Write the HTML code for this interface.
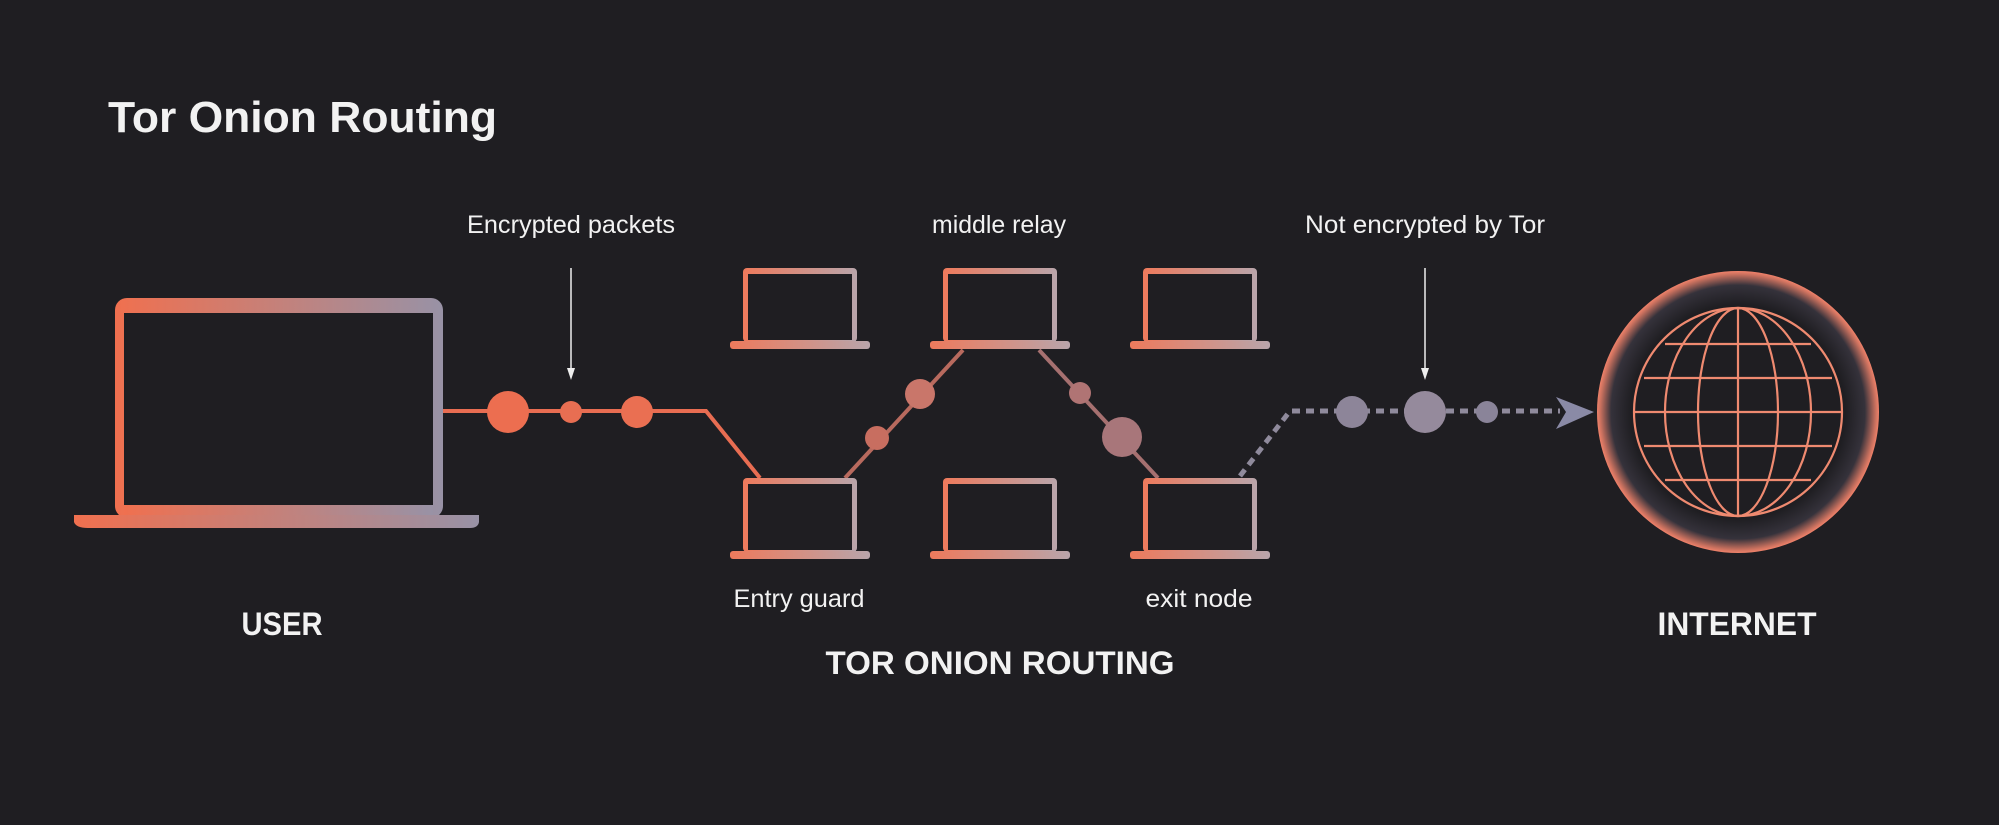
<!DOCTYPE html>
<html><head><meta charset="utf-8"><style>
html,body{margin:0;padding:0;background:#1f1e22;}
svg{display:block}
text{font-family:"Liberation Sans",sans-serif;fill:#f2f2f2}
</style></head><body>
<svg width="1999" height="825" viewBox="0 0 1999 825" xmlns="http://www.w3.org/2000/svg">
<defs>
<linearGradient id="lg" x1="0" x2="1" y1="0" y2="0">
<stop offset="0" stop-color="#f0704f"/><stop offset="1" stop-color="#9892a6"/></linearGradient>
<linearGradient id="lg2" x1="0" x2="1" y1="0" y2="0">
<stop offset="0" stop-color="#ee7a5c"/><stop offset="1" stop-color="#b9a5ab"/></linearGradient>
<radialGradient id="glow" cx="0.5" cy="0.5" r="0.5">
<stop offset="0.76" stop-color="#1f1e22"/><stop offset="0.9" stop-color="#35323b"/><stop offset="0.975" stop-color="#c8705e"/><stop offset="1" stop-color="#f0826a"/></radialGradient>
<g id="lap">
<rect x="-57" y="0" width="114" height="74" rx="4" fill="url(#lg2)"/>
<rect x="-52" y="6" width="104" height="66" fill="#1f1e22"/>
<rect x="-70" y="73" width="140" height="8" rx="3" fill="url(#lg2)"/>
</g>
</defs>
<rect width="1999" height="825" fill="#1f1e22"/>

<text x="108" y="132" font-size="44" font-weight="bold" textLength="389" lengthAdjust="spacingAndGlyphs">Tor Onion Routing</text>

<!-- user laptop -->
<rect x="115" y="298" width="328" height="220" rx="12" fill="url(#lg)"/>
<rect x="124" y="313" width="309" height="192" fill="#1f1e22"/>
<rect x="124" y="505" width="309" height="10" fill="url(#lg)" opacity="0.8"/>
<path d="M74,515 H479 V522 Q478,528 470,528 H88 Q76,528 74,522 Z" fill="url(#lg)"/>

<!-- wire user->entry -->
<polyline points="443,411 706,411 760,478" fill="none" stroke="#e86d52" stroke-width="4"/>
<circle cx="508" cy="412" r="21" fill="#ec6e50"/>
<circle cx="571" cy="412" r="11" fill="#e86e52"/>
<circle cx="637" cy="412" r="16" fill="#ea6f52"/>

<!-- entry->middle -->
<line x1="845" y1="478" x2="963" y2="350" stroke="#b86a5e" stroke-width="4"/>
<circle cx="877" cy="438" r="12" fill="#c86e60"/>
<circle cx="920" cy="394" r="15" fill="#c9766a"/>
<!-- middle->exit -->
<line x1="1039" y1="350" x2="1158" y2="478" stroke="#a67070" stroke-width="4"/>
<circle cx="1080" cy="393" r="11" fill="#b07474"/>
<circle cx="1122" cy="437" r="20" fill="#a8767a"/>

<!-- exit->internet dotted -->
<polyline points="1240,476 1290,411 1560,411" fill="none" stroke="#8f8a9c" stroke-width="5" stroke-dasharray="8,6"/>
<circle cx="1352" cy="412" r="16" fill="#8d8599"/>
<circle cx="1425" cy="412" r="21" fill="#958a9c"/>
<circle cx="1487" cy="412" r="11" fill="#8a8499"/>
<path d="M1556,397 L1594,412 L1556,429 L1566,412 Z" fill="#8a8aa6"/>

<!-- small laptops -->
<use href="#lap" x="800" y="268"/>
<use href="#lap" x="1000" y="268"/>
<use href="#lap" x="1200" y="268"/>
<use href="#lap" x="800" y="478"/>
<use href="#lap" x="1000" y="478"/>
<use href="#lap" x="1200" y="478"/>

<!-- arrows -->
<line x1="571" y1="268" x2="571" y2="372" stroke="#eee" stroke-width="1.5"/>
<path d="M567,368 L571,380 L575,368 Z" fill="#eee"/>
<line x1="1425" y1="268" x2="1425" y2="372" stroke="#eee" stroke-width="1.5"/>
<path d="M1421,368 L1425,380 L1429,368 Z" fill="#eee"/>

<!-- globe -->
<circle cx="1738" cy="412" r="141" fill="url(#glow)"/>
<g fill="none" stroke="#ef8a70" stroke-width="2.2">
<circle cx="1738" cy="412" r="104"/>
<ellipse cx="1738" cy="412" rx="73" ry="104"/>
<ellipse cx="1738" cy="412" rx="40" ry="104"/>
<line x1="1738" y1="308" x2="1738" y2="516"/>
<line x1="1634" y1="412" x2="1842" y2="412"/>
<line x1="1644" y1="378" x2="1832" y2="378"/>
<line x1="1644" y1="446" x2="1832" y2="446"/>
<line x1="1665" y1="344" x2="1811" y2="344"/>
<line x1="1665" y1="480" x2="1811" y2="480"/>
</g>

<!-- labels -->
<text x="571" y="233" font-size="25" text-anchor="middle" textLength="208" lengthAdjust="spacingAndGlyphs">Encrypted packets</text>
<text x="999" y="233" font-size="25" text-anchor="middle" textLength="134" lengthAdjust="spacingAndGlyphs">middle relay</text>
<text x="1425" y="233" font-size="25" text-anchor="middle" textLength="240" lengthAdjust="spacingAndGlyphs">Not encrypted by Tor</text>
<text x="799" y="607" font-size="25" text-anchor="middle" textLength="131" lengthAdjust="spacingAndGlyphs">Entry guard</text>
<text x="1199" y="607" font-size="25" text-anchor="middle" textLength="107" lengthAdjust="spacingAndGlyphs">exit node</text>
<text x="282" y="635" font-size="32" font-weight="bold" text-anchor="middle" textLength="81" lengthAdjust="spacingAndGlyphs">USER</text>
<text x="1000" y="674" font-size="32" font-weight="bold" text-anchor="middle" textLength="349" lengthAdjust="spacingAndGlyphs">TOR ONION ROUTING</text>
<text x="1737" y="635" font-size="32" font-weight="bold" text-anchor="middle" textLength="159" lengthAdjust="spacingAndGlyphs">INTERNET</text>
</svg>
</body></html>
